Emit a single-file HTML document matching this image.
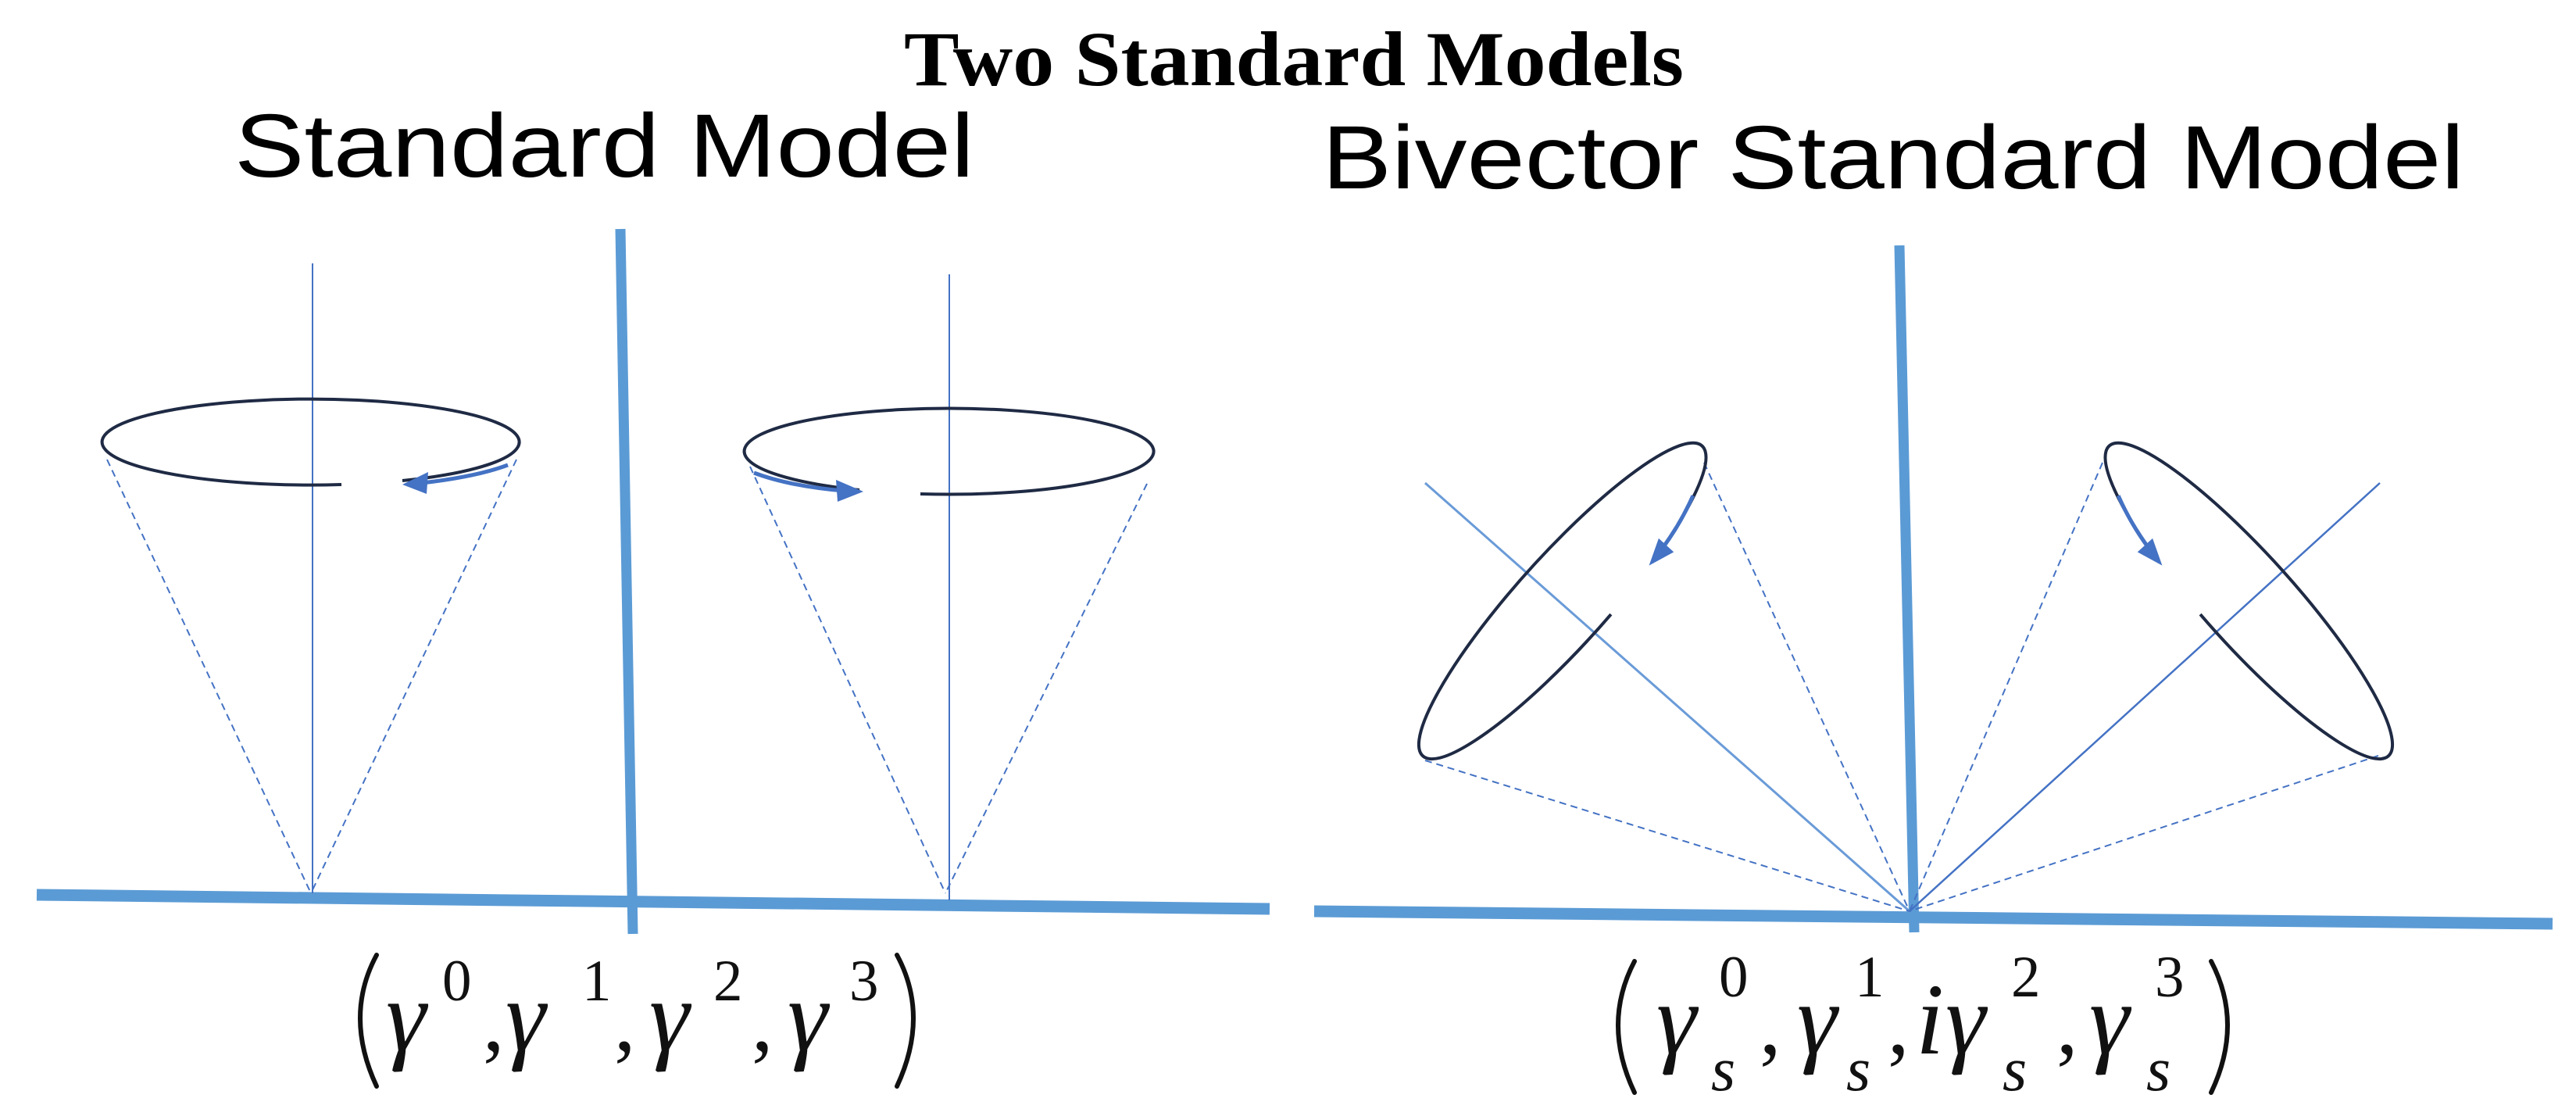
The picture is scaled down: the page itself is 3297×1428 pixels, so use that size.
<!DOCTYPE html>
<html><head><meta charset="utf-8"><style>
html,body{margin:0;padding:0;background:#fff}
svg{display:block}
</style></head><body>
<svg width="3297" height="1428" viewBox="0 0 3297 1428" xmlns="http://www.w3.org/2000/svg">
<rect width="3297" height="1428" fill="#fff"/>
<!-- Titles -->
<text x="1157" y="109" font-family="Liberation Serif, serif" font-weight="bold" font-size="100" textLength="998" lengthAdjust="spacingAndGlyphs">Two Standard Models</text>
<text x="300" y="226" font-family="Liberation Sans, sans-serif" font-size="115" textLength="947" lengthAdjust="spacingAndGlyphs">Standard Model</text>
<text x="1692" y="241" font-family="Liberation Sans, sans-serif" font-size="115" textLength="1462" lengthAdjust="spacingAndGlyphs">Bivector Standard Model</text>

<!-- LEFT PANEL -->
<line x1="47" y1="1145" x2="1625" y2="1163" stroke="#5b9bd5" stroke-width="15"/>
<line x1="794" y1="293" x2="810" y2="1195" stroke="#5b9bd5" stroke-width="13"/>
<!-- left cone -->
<line x1="400" y1="337" x2="400" y2="1143" stroke="#4472c4" stroke-width="2"/>
<line x1="137" y1="588" x2="398" y2="1143" stroke="#4472c4" stroke-width="2" stroke-dasharray="9 6"/>
<line x1="661" y1="588" x2="398" y2="1143" stroke="#4472c4" stroke-width="2" stroke-dasharray="9 6"/>
<path d="M515 615 A267 55 0 1 0 437 620" fill="none" stroke="#1f2a44" stroke-width="4"/>
<path d="M650 595 Q610 610 540 618" fill="none" stroke="#4472c4" stroke-width="5"/>
<polygon points="515,620 548,604 546,632" fill="#4472c4"/>
<!-- right cone -->
<line x1="1215" y1="351" x2="1215" y2="1152" stroke="#4472c4" stroke-width="2"/>
<line x1="960" y1="597" x2="1210" y2="1143" stroke="#4472c4" stroke-width="2" stroke-dasharray="9 6"/>
<line x1="1468" y1="619" x2="1210" y2="1143" stroke="#4472c4" stroke-width="2" stroke-dasharray="9 6"/>
<path d="M1178 632 A262 55 0 1 0 1100 627" fill="none" stroke="#1f2a44" stroke-width="4"/>
<path d="M965 605 Q1010 622 1080 628" fill="none" stroke="#4472c4" stroke-width="5"/>
<polygon points="1105,629 1070,614 1072,642" fill="#4472c4"/>

<!-- Left formula -->
<g fill="none" stroke="#111" stroke-width="6" stroke-linecap="round">
<path d="M482 1222 Q440 1300 482 1390"/>
<path d="M1148 1222 Q1190 1300 1148 1390"/>
</g>
<g font-family="Liberation Serif, serif" fill="#111">
<g font-style="italic" font-size="130">
<text x="494" y="1344">γ</text><text x="647" y="1344">γ</text><text x="831" y="1344">γ</text><text x="1008" y="1344">γ</text>
</g>
<g font-size="75">
<text x="566" y="1280">0</text><text x="745" y="1280">1</text><text x="913" y="1280">2</text><text x="1087" y="1280">3</text>
</g>
<g font-size="110">
<text x="618" y="1344">,</text><text x="786" y="1344">,</text><text x="962" y="1344">,</text>
</g>
</g>

<!-- RIGHT PANEL -->
<line x1="1682" y1="1166" x2="3267" y2="1182" stroke="#5b9bd5" stroke-width="15"/>
<line x1="2431" y1="314" x2="2450" y2="1193" stroke="#5b9bd5" stroke-width="13"/>
<line x1="1824" y1="618" x2="2444" y2="1166" stroke="#6a9bd8" stroke-width="3"/>
<line x1="3046" y1="618" x2="2444" y2="1166" stroke="#4472c4" stroke-width="2.5"/>
<line x1="2181" y1="592" x2="2444" y2="1166" stroke="#4472c4" stroke-width="2" stroke-dasharray="9 6"/>
<line x1="1824" y1="973" x2="2444" y2="1166" stroke="#4472c4" stroke-width="2" stroke-dasharray="9 6"/>
<line x1="2691" y1="592" x2="2444" y2="1166" stroke="#4472c4" stroke-width="2" stroke-dasharray="9 6"/>
<line x1="3044" y1="967" x2="2444" y2="1166" stroke="#4472c4" stroke-width="2" stroke-dasharray="9 6"/>
<g transform="translate(1997 772) rotate(-48)">
<path d="M118 52.4 A267 58 0 1 0 33 57.6" fill="none" stroke="#1f2a44" stroke-width="4"/>
<path d="M216 34 Q180 46 140 50" fill="none" stroke="#4472c4" stroke-width="5"/>
<polygon points="112,52 146,38 146,64" fill="#4472c4"/>
</g>
<g transform="translate(4878 0) scale(-1 1)">
<g transform="translate(1997 772) rotate(-48)">
<path d="M118 52.4 A267 58 0 1 0 33 57.6" fill="none" stroke="#1f2a44" stroke-width="4"/>
<path d="M216 34 Q180 46 140 50" fill="none" stroke="#4472c4" stroke-width="5"/>
<polygon points="112,52 146,38 146,64" fill="#4472c4"/>
</g>
</g>

<!-- Right formula -->
<g fill="none" stroke="#111" stroke-width="6" stroke-linecap="round">
<path d="M2092 1230 Q2050 1310 2092 1398"/>
<path d="M2830 1230 Q2872 1310 2830 1398"/>
</g>
<g font-family="Liberation Serif, serif" fill="#111">
<g font-style="italic" font-size="130">
<text x="2120" y="1348">γ</text><text x="2300" y="1348">γ</text><text x="2452" y="1348">i</text><text x="2490" y="1348">γ</text><text x="2674" y="1348">γ</text>
</g>
<g font-style="italic" font-size="80">
<text x="2190" y="1395">s</text><text x="2363" y="1395">s</text><text x="2563" y="1395">s</text><text x="2747" y="1395">s</text>
</g>
<g font-size="75">
<text x="2200" y="1275">0</text><text x="2374" y="1275">1</text><text x="2574" y="1275">2</text><text x="2758" y="1275">3</text>
</g>
<g font-size="110">
<text x="2252" y="1348">,</text><text x="2416" y="1348">,</text><text x="2632" y="1348">,</text>
</g>
</g>
</svg>
</body></html>
